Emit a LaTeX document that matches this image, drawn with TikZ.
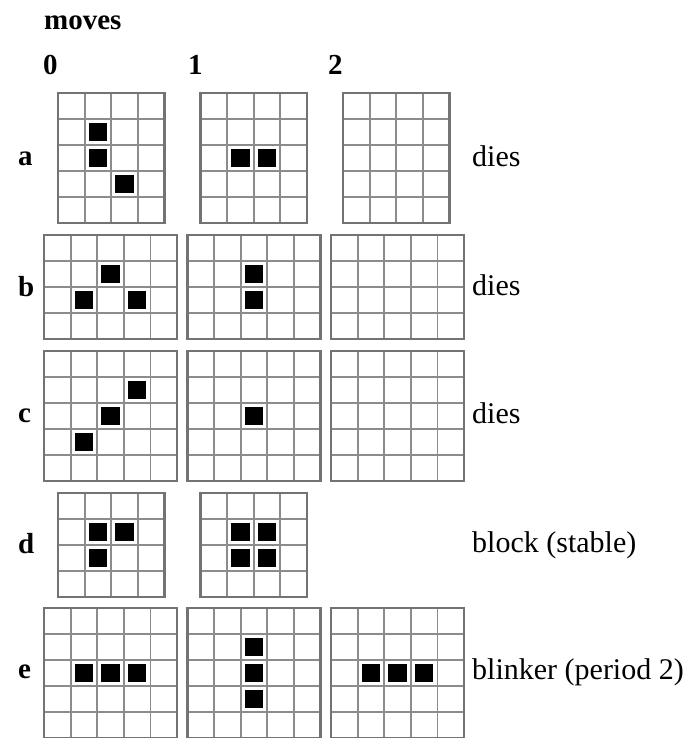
\documentclass[tikz,border=0pt]{standalone}
\usepackage{fontspec}
\setmainfont{Liberation Serif}
\def\cw{26.6}
\def\ch{26}
\tikzset{
  gridline/.style={draw=black!45, line width=1.8pt},
  gridborder/.style={draw=black!55, line width=2.6pt},
  livecell/.style={fill=black},
  hdr/.style={font=\fontsize{29}{34}\selectfont\bfseries, anchor=base west, inner sep=0pt},
  note/.style={font=\fontsize{30}{36}\selectfont, anchor=base west, inner sep=0pt}
}
\newcommand{\lifegrid}[4]{%
  \begin{scope}[shift={(#1,#2)}]
    \fill[white] (0,0) rectangle (#3*\cw,#4*\ch);
    \foreach \k in {1,...,#3} {\draw[gridline] (\k*\cw,0) -- (\k*\cw,#4*\ch);}
    \foreach \k in {1,...,#4} {\draw[gridline] (0,\k*\ch) -- (#3*\cw,\k*\ch);}
    \draw[gridborder] (0,0) rectangle (#3*\cw,#4*\ch);
  \end{scope}}
\newcommand{\alivecells}[3]{%
  \begin{scope}[shift={(#1,#2)}]
    \foreach \c/\r in {#3} {\fill[livecell] (\c*\cw+4,\r*\ch+4) rectangle ++(\cw-8,\ch-8);}
  \end{scope}}
\begin{document}
\begin{tikzpicture}[x=1pt,y=-1pt]
  \useasboundingbox[fill=white] (0,0) rectangle (689,738);
  % headers
  \node[hdr] (moves) at (44,30) {moves};
  \node[hdr] (m0) at (43,75) {0};
  \node[hdr] (m1) at (188,75) {1};
  \node[hdr] (m2) at (328,75) {2};
  % row labels
  \node[hdr] (la) at (18,166) {a};
  \node[hdr] (lb) at (18,296) {b};
  \node[hdr] (lc) at (18,422) {c};
  \node[hdr] (ld) at (18,553) {d};
  \node[hdr] (le) at (18,678) {e};
  % right notes
  \node[note] (na) at (472,167) {dies};
  \node[note] (nb) at (472,295) {dies};
  \node[note] (nc) at (472,423) {dies};
  \node[note] (nd) at (472,552) {block (stable)};
  \node[note] (ne) at (472,679) {blinker (period 2)};
  % row a
  \lifegrid{58}{93}{4}{5}   \alivecells{58}{93}{1/1,1/2,2/3}
  \lifegrid{200.5}{93}{4}{5} \alivecells{200.5}{93}{1/2,2/2}
  \lifegrid{343}{93}{4}{5}
  % row b
  \lifegrid{44}{235}{5}{4}  \alivecells{44}{235}{2/1,1/2,3/2}
  \lifegrid{187.5}{235}{5}{4} \alivecells{187.5}{235}{2/1,2/2}
  \lifegrid{331}{235}{5}{4}
  % row c
  \lifegrid{44}{351}{5}{5}  \alivecells{44}{351}{3/1,2/2,1/3}
  \lifegrid{187.5}{351}{5}{5} \alivecells{187.5}{351}{2/2}
  \lifegrid{331}{351}{5}{5}
  % row d
  \lifegrid{58}{493}{4}{4}  \alivecells{58}{493}{1/1,2/1,1/2}
  \lifegrid{200.5}{493}{4}{4} \alivecells{200.5}{493}{1/1,2/1,1/2,2/2}
  % row e
  \lifegrid{44}{608}{5}{5}  \alivecells{44}{608}{1/2,2/2,3/2}
  \lifegrid{187.5}{608}{5}{5} \alivecells{187.5}{608}{2/1,2/2,2/3}
  \lifegrid{331}{608}{5}{5} \alivecells{331}{608}{1/2,2/2,3/2}
\end{tikzpicture}
\end{document}
